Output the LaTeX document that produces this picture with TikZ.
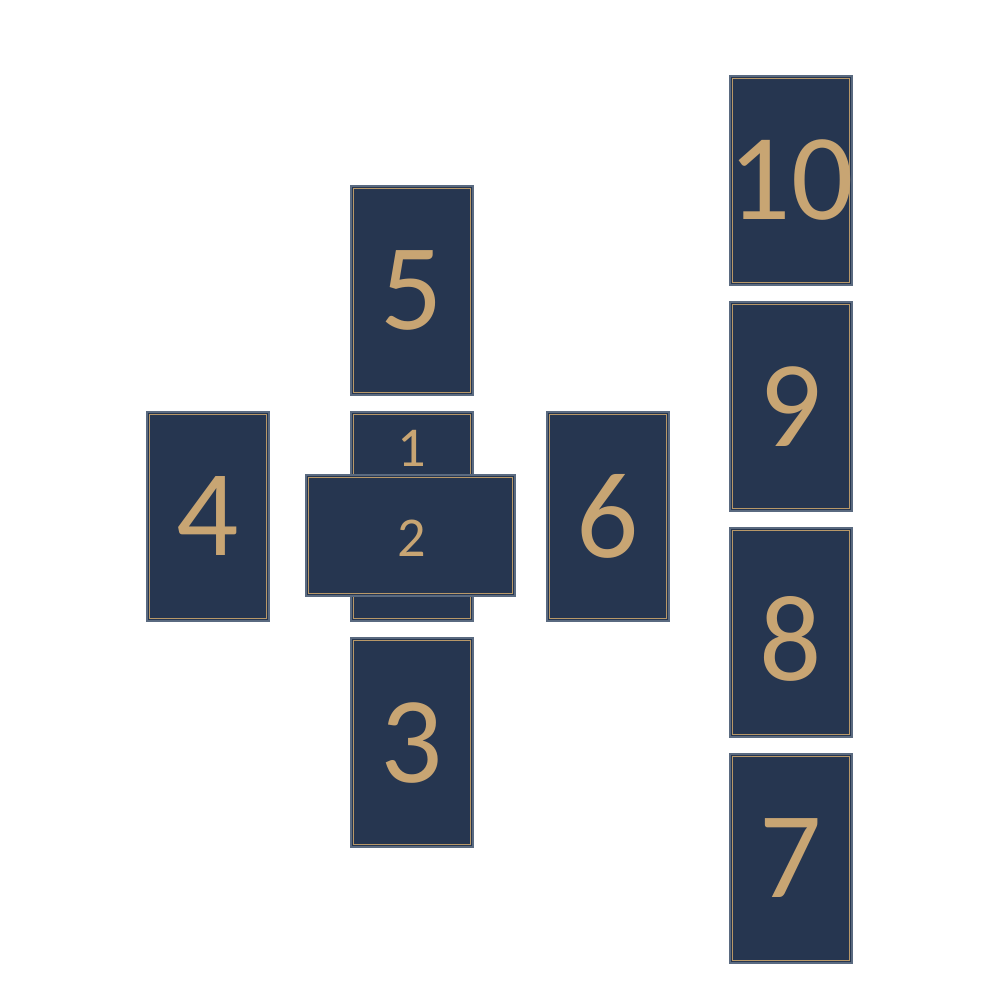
\documentclass[tikz,border=0pt]{standalone}
\usepackage{fontspec}
\setmainfont{Carlito}
\definecolor{navy}{HTML}{263650}
\definecolor{gold}{HTML}{B89868}
\definecolor{edge}{HTML}{5A6A80}
\tikzset{
  card/.style={rectangle, inner sep=0pt, outer sep=0pt, fill=navy, draw=edge, line width=0.35pt,
    minimum width=1.22cm, minimum height=2.09cm,
    path picture={\draw[gold, line width=0.4pt]
      ([shift={(0.65pt,-0.65pt)}]path picture bounding box.north west) rectangle
      ([shift={(-0.65pt,0.65pt)}]path picture bounding box.south east);}},
  crosscard/.style={card, minimum width=2.09cm, minimum height=1.21cm},
  bignum/.style={text={rgb,255:red,200;green,165;blue,115}, font=\fontsize{35}{35}\selectfont},
  smallnum/.style={text={rgb,255:red,200;green,165;blue,115}, font=\fontsize{16}{16}\selectfont}
}
\begin{document}
\begin{tikzpicture}
\useasboundingbox (0,0) rectangle (10,-10);
% central cross
\node[card] (c5) at (4.12,-2.905) {};
\node[bignum] (t5) at (c5.center) {5};
\node[card] (c4) at (2.08,-5.165) {};
\node[bignum] (t4) at (c4.center) {4};
\node[card] (c1) at (4.12,-5.165) {};
\node[smallnum] (t1) at (4.12,-4.48) {1};
\node[card] (c6) at (6.08,-5.165) {};
\node[bignum] (t6) at (c6.center) {6};
\node[card] (c3) at (4.12,-7.425) {};
\node[bignum] (t3) at (c3.center) {3};
\node[crosscard] (c2) at (4.105,-5.355) {};
\node[smallnum] (t2) at (4.12,-5.38) {2};
% staff
\node[card] (c10) at (7.91,-1.805) {};
\node[bignum] (t10) at (c10.center) {10};
\node[card] (c9) at (7.91,-4.065) {};
\node[bignum] (t9) at (c9.center) {9};
\node[card] (c8) at (7.91,-6.325) {};
\node[bignum] (t8) at (7.91,-6.385) {8};
\node[card] (c7) at (7.91,-8.585) {};
\node[bignum] (t7) at (c7.center) {7};
\end{tikzpicture}
\end{document}
